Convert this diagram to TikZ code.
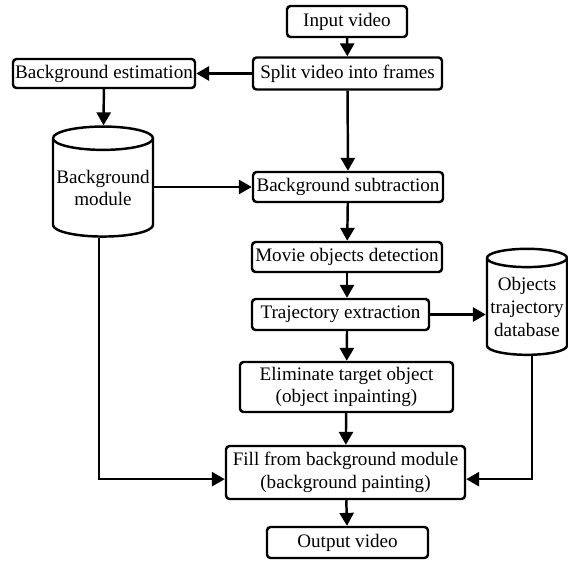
\documentclass[tikz,border=0pt]{standalone}
\usepackage{fontspec}
\setmainfont{Liberation Serif}
\usetikzlibrary{shapes.geometric,arrows.meta}
\tikzset{
  stage/.style={draw, line width=2.1pt, rounded corners=3pt, inner sep=1pt,
    align=center, font=\fontsize{16.3}{19.5}\selectfont},
  store/.style={draw, line width=2.1pt, shape=cylinder, shape border rotate=90,
    aspect=0.25, inner sep=0pt, align=center, font=\fontsize{16.3}{19.5}\selectfont},
  flow/.style={line width=2.1pt, -{Triangle[length=11pt,width=12pt]}}
}

\begin{document}
\begin{tikzpicture}[x=0.03cm, y=-0.03cm]
\useasboundingbox (0,0) rectangle (568,560);
\node[stage, minimum width=3.6cm, minimum height=0.93cm] (input) at (347,21.5) {Input video};
\node[stage, minimum width=5.67cm, minimum height=0.96cm] (split) at (347.5,73.5) {Split video into frames};
\node[stage, minimum width=5.46cm, minimum height=0.87cm] (bgest) at (104,73.5) {Background estimation};
\node[store, minimum width=3cm, minimum height=3.3cm] (bgmod) at (103,188) {Background\\module};
\node[stage, minimum width=5.7cm, minimum height=0.9cm] (bgsub) at (348,187) {Background subtraction};
\node[stage, minimum width=5.7cm, minimum height=0.9cm] (movie) at (347,257) {Movie objects detection};
\node[stage, minimum width=5.31cm, minimum height=0.93cm] (traj) at (340.5,314.5) {Trajectory extraction};
\node[store, minimum width=2.4cm, minimum height=3.18cm] (db) at (527,307) {Objects\\trajectory\\database};
\node[stage, minimum width=6.39cm, minimum height=1.5cm] (elim) at (346.5,387) {Eliminate target object\\(object inpainting)};
\node[stage, minimum width=7.17cm, minimum height=1.59cm] (fill) at (345.5,472.5) {Fill from background module\\(background painting)};
\node[stage, minimum width=4.83cm, minimum height=0.93cm] (output) at (347.5,542.5) {Output video};

\draw[flow] (input) -- (split);
\draw[flow] (split) -- (bgest);
\draw[flow] (bgest) -- (bgmod);
\draw[flow] (split) -- (bgsub);
\draw[flow] (bgmod.east |- bgsub.west) -- (bgsub.west);
\draw[flow] (bgsub) -- (movie);
\draw[flow] (movie) -- (traj.north -| movie.south);
\draw[flow] (traj.south -| movie.south) -- (elim);
\draw[flow] (traj.east) -- (db.west |- traj.east);
\draw[flow] (elim) -- (fill);
\draw[flow] (fill) -- (output);
\draw[flow] ([xshift=-0.12cm]bgmod.south) |- ([yshift=-0.2cm]fill.west);
\draw[flow] ([xshift=0.15cm]db.south) |- ([yshift=-0.2cm]fill.east);
\end{tikzpicture}
\end{document}
